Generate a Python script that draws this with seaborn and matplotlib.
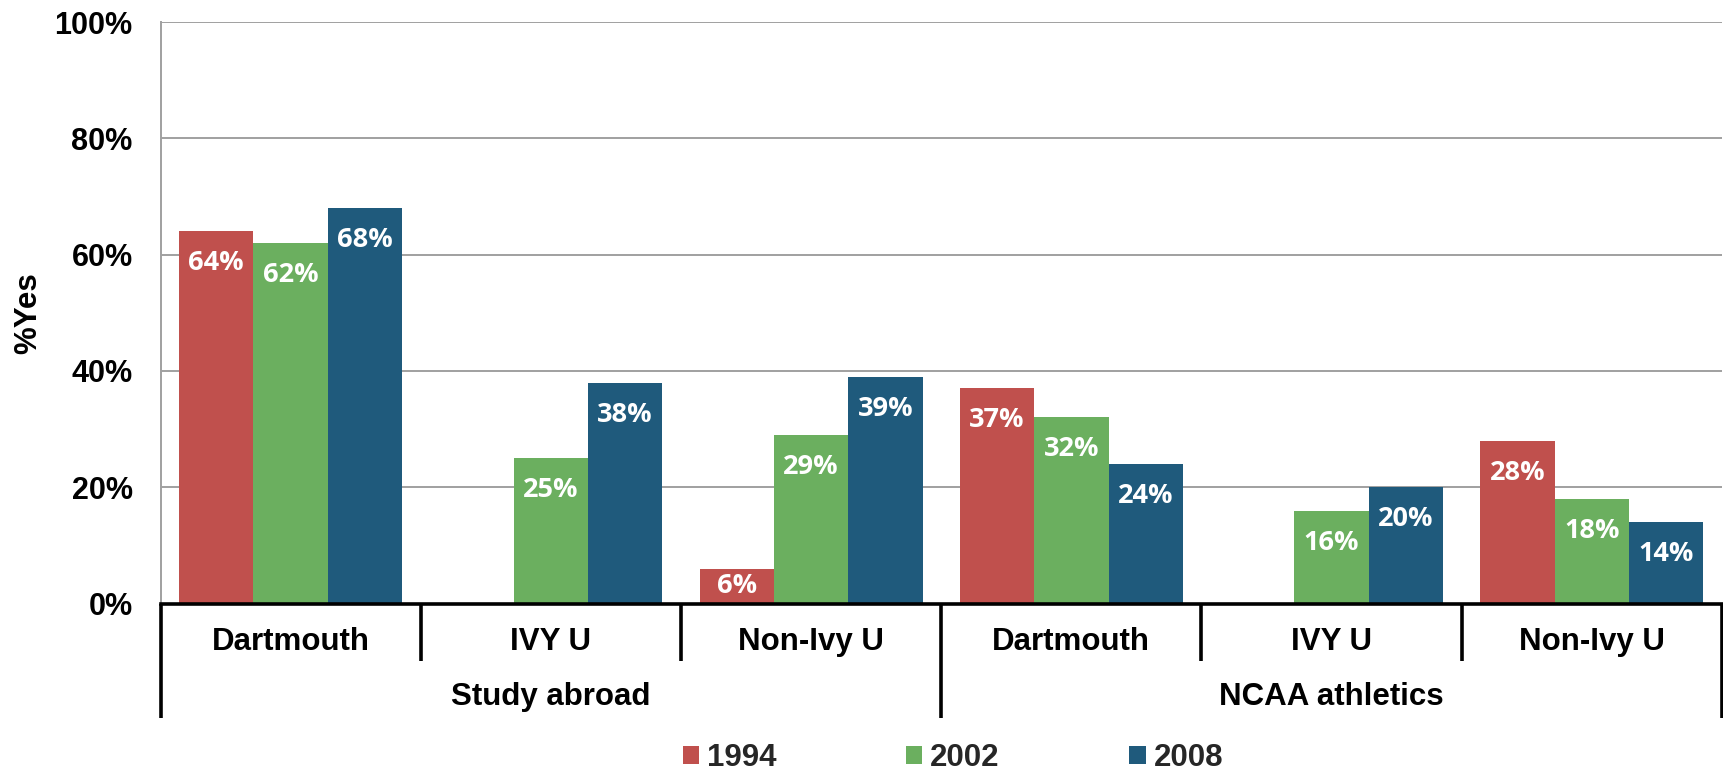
import matplotlib
matplotlib.use("Agg")
import matplotlib.pyplot as plt
import matplotlib.transforms as mtransforms
from matplotlib.patches import Patch
import numpy as np
import pandas as pd
import seaborn as sns

# ---- data ----
groups = ["Study abroad", "NCAA athletics"]
categories = ["Dartmouth", "IVY U", "Non-Ivy U", "Dartmouth", "IVY U", "Non-Ivy U"]
years = ["1994", "2002", "2008"]
vals_1994 = [64, None, 6, 37, None, 28]
vals_2002 = [62, 25, 29, 32, 16, 18]
vals_2008 = [68, 38, 39, 24, 20, 14]
colors = ["#C0504D", "#6BAF5F", "#1F5A7C"]
yticks = [0, 20, 40, 60, 80, 100]

rows = []
for yr, vals in zip(years, [vals_1994, vals_2002, vals_2008]):
    for i, v in enumerate(vals):
        if v is not None:
            rows.append({"cat": f"c{i}", "year": yr, "val": v})
df = pd.DataFrame(rows)
cat_ids = [f"c{i}" for i in range(len(categories))]

sns.set_theme(style="white")
plt.rcParams["font.family"] = ["Liberation Sans", "DejaVu Sans"]

W, H = 1724, 774
fig = plt.figure(figsize=(W / 100, H / 100), dpi=100)
ax = fig.add_axes([160.5 / W, 1 - 603.6 / H, (1722 - 160.5) / W, (603.6 - 22) / H])

sns.barplot(data=df, x="cat", y="val", hue="year", order=cat_ids, hue_order=years,
            palette=colors, width=0.857, errorbar=None, saturation=1, linewidth=0,
            legend=False, ax=ax, zorder=3)

ax.set_xlim(-0.5, len(categories) - 0.5)
ax.set_ylim(0, 100)
ax.set_yticks(yticks)
ax.set_yticklabels([f"{t}%" for t in yticks], fontsize=22, fontweight="bold",
                   color="black")
ax.tick_params(axis="y", length=0, pad=20)
ax.set_xticks([])
ax.set_xlabel("")
ax.set_ylabel("")
ax.yaxis.grid(True, color="#A0A0A0", linewidth=1.4, zorder=0)
ax.set_axisbelow(True)
for s in ["top", "right"]:
    ax.spines[s].set_visible(False)
ax.spines["left"].set_color("#A0A0A0")
ax.spines["left"].set_linewidth(1.4)
ax.spines["bottom"].set_color("black")
ax.spines["bottom"].set_linewidth(2.6)
ax.spines["bottom"].set_zorder(5)

# data labels
for container, yr in zip(ax.containers, years):
    for bar in container:
        h = bar.get_height()
        if h is None or np.isnan(h) or h == 0:
            continue
        x = bar.get_x() + bar.get_width() / 2
        y = h - min(5.5, h / 2)
        ax.text(x, y, f"{int(round(h))}%", ha="center", va="center",
                color="white", fontsize=19.5, fontweight="bold",
                family=["Open Sans", "DejaVu Sans"], zorder=6)

# category axis (two-level)
trans = mtransforms.blended_transform_factory(ax.transData, fig.transFigure)
y_base = 1 - 603.6 / H
y_inner = 1 - 661 / H
y_outer = 1 - 718 / H
for b in np.arange(-0.5, len(categories)):
    outer = b in (-0.5, 2.5, len(categories) - 0.5)
    ax.plot([b, b], [y_base, y_outer if outer else y_inner], transform=trans,
            color="black", linewidth=2.6, clip_on=False, solid_capstyle="butt",
            zorder=5)
for i, c in enumerate(categories):
    ax.text(i, 1 - 642 / H, c, transform=trans, ha="center", va="center",
            fontsize=22.5, fontweight="bold", color="black")
for g, center in zip(groups, [1, 4]):
    ax.text(center, 1 - 697 / H, g, transform=trans, ha="center", va="center",
            fontsize=22.5, fontweight="bold", color="black")

fig.text(28 / W, 1 - 313 / H, "%Yes", rotation=90, ha="center", va="center",
         fontsize=22.5, fontweight="bold", color="black")

handles = [Patch(facecolor=c, edgecolor="none", label=y) for c, y in zip(colors, years)]
leg = fig.legend(handles=handles, loc="center", bbox_to_anchor=(953 / W, 1 - 758 / H),
                 ncol=3, frameon=False, fontsize=22.5, handlelength=0.52,
                 handleheight=0.52, handletextpad=0.25, columnspacing=4.15,
                 borderpad=0, borderaxespad=0)
for t in leg.get_texts():
    t.set_fontweight("bold")

fig.savefig("out.png", dpi=100, facecolor="white")
